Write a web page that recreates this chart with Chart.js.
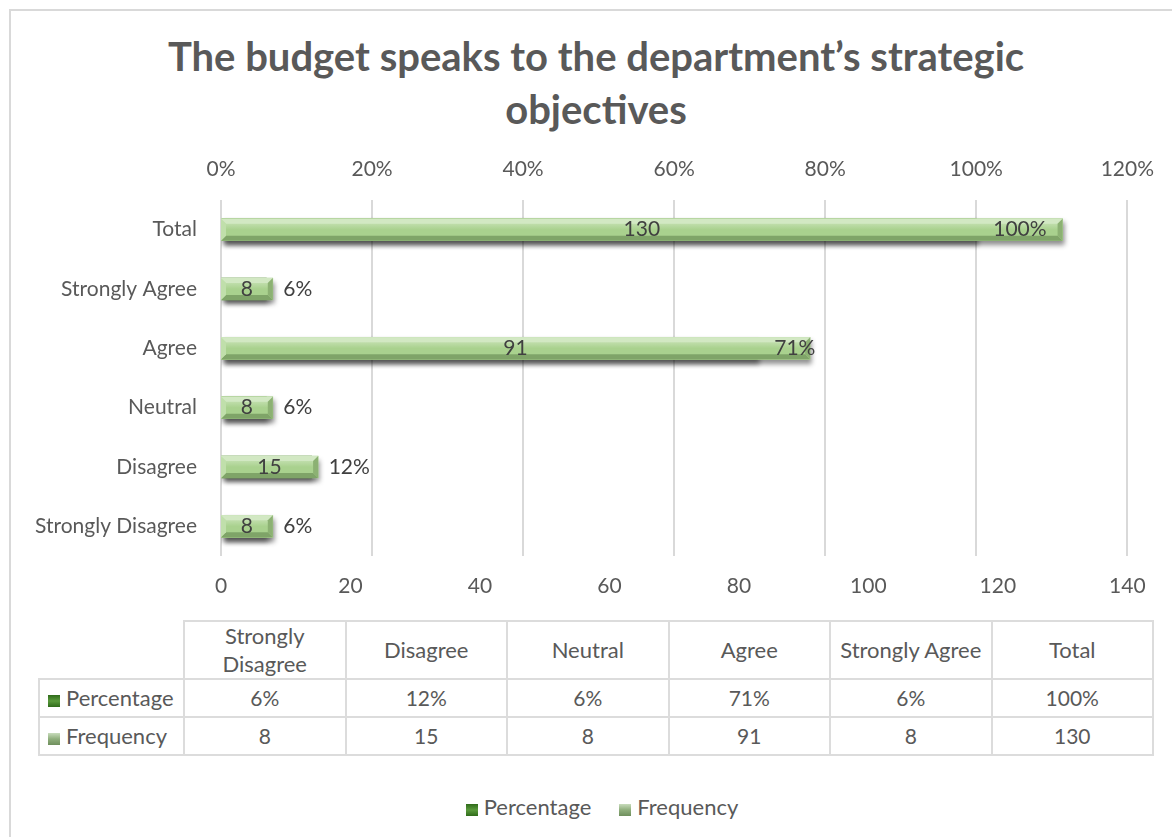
<!DOCTYPE html>
<html><head><meta charset="utf-8">
<script src="https://cdn.jsdelivr.net/npm/chart.js@4"></script>
<style>
html,body{margin:0;padding:0;background:#fff;width:1172px;height:837px;overflow:hidden;font-family:Lato,sans-serif;color:#595959}
#frame{position:absolute;left:9px;top:9px;width:1200px;height:900px;border-left:2px solid #d9d9d9;border-top:2px solid #d9d9d9;box-sizing:border-box}
#title{position:absolute;left:0;top:30px;width:1192px;text-align:center;font:bold 40px/53px Lato,sans-serif;color:#595959}
#wrap{position:absolute;left:0;top:0;width:1172px;height:600px}
#tbl{position:absolute;left:38px;top:620px;border-collapse:collapse;table-layout:fixed}
#tbl td{border:2px solid #dcdcdc;text-align:center;font-size:21px;color:#595959;padding:0 4px;line-height:26px;height:38px;box-sizing:border-box}
#tbl td.hd{font-size:22px;height:58px;line-height:28px}
#tbl td.rl{text-align:left;padding-left:8px;font-size:22px}
#tbl td.blank{border-top:none;border-left:none}
.mk{display:inline-block;width:12px;height:12px;margin-right:6px;vertical-align:-1px}
#legend{position:absolute;top:793px;left:6px;width:1192px;text-align:center;font-size:22px;color:#595959}
#legend span.it{margin:0 14px}
</style></head>
<body>
<div id="frame"></div>
<div id="title"></div>
<div id="wrap"><canvas id="c" width="1172" height="600"></canvas></div>
<table id="tbl"></table>
<div id="legend"></div>
<script>
const titleLines = ['The budget speaks to the department\u2019s strategic', 'objectives'];
const categories = ['Strongly Disagree','Disagree','Neutral','Agree','Strongly Agree','Total'];
const frequency = [8, 15, 8, 91, 8, 130];
const percentage = [6, 12, 6, 71, 6, 100];
const pctTicks = [0, 20, 40, 60, 80, 100, 120];
const freqTicks = [0, 20, 40, 60, 80, 100, 120, 140];
const seriesNames = ['Percentage', 'Frequency'];

const PCT_COLOR = '#548235';
const FREQ_COLOR = '#a9d18e';
const PCT_MARK = 'linear-gradient(#2f6b1a,#5a9a3c 50%,#2f6b1a)';
const FREQ_MARK = 'linear-gradient(#c8dcbc,#8fae7c 50%,#6f8f5d)';

document.getElementById('title').innerHTML = titleLines.join('<br>');

// bevel overlay drawn over each bar element from the library's geometry
function bevel(ctx, el, light, mid, dark, edgeL, edgeR){
  const p = el.getProps(['x','y','base','height'], true);
  const x0 = Math.min(p.base, p.x), x1 = Math.max(p.base, p.x);
  const yT = p.y - p.height/2, yB = p.y + p.height/2;
  const b = Math.min(5, (x1-x0)/3, p.height/3);
  ctx.save();
  const g = ctx.createLinearGradient(0, yT, 0, yB);
  g.addColorStop(0, light); g.addColorStop(0.5, mid); g.addColorStop(1, mid);
  ctx.fillStyle = g; ctx.fillRect(x0, yT, x1-x0, yB-yT);
  ctx.fillStyle = light;
  ctx.beginPath(); ctx.moveTo(x0,yT); ctx.lineTo(x1,yT); ctx.lineTo(x1-b,yT+b); ctx.lineTo(x0+b,yT+b); ctx.closePath(); ctx.fill();
  ctx.fillStyle = dark;
  ctx.beginPath(); ctx.moveTo(x0,yB); ctx.lineTo(x1,yB); ctx.lineTo(x1-b,yB-b); ctx.lineTo(x0+b,yB-b); ctx.closePath(); ctx.fill();
  ctx.fillStyle = edgeL;
  ctx.beginPath(); ctx.moveTo(x0,yT); ctx.lineTo(x0+b,yT+b); ctx.lineTo(x0+b,yB-b); ctx.lineTo(x0,yB); ctx.closePath(); ctx.fill();
  ctx.fillStyle = edgeR;
  ctx.beginPath(); ctx.moveTo(x1,yT); ctx.lineTo(x1-b,yT+b); ctx.lineTo(x1-b,yB-b); ctx.lineTo(x1,yB); ctx.closePath(); ctx.fill();
  ctx.restore();
}

const bevelPlugin = {
  id: 'bevel',
  beforeDatasetDraw(chart){
    const ctx = chart.ctx;
    ctx.save();
    ctx.shadowColor = 'rgba(0,0,0,0.45)';
    ctx.shadowBlur = 5;
    ctx.shadowOffsetX = 2;
    ctx.shadowOffsetY = 4;
  },
  afterDatasetDraw(chart, args){
    const ctx = chart.ctx;
    ctx.restore();
    const meta = args.meta;
    const isPct = meta.index === 0;
    meta.data.forEach(el => {
      if (isPct) bevel(ctx, el, '#7fb05e', '#548235', '#3b5e25', '#6a9a4a', '#3f6628');
      else bevel(ctx, el, '#d2e8c3', '#a9d18e', '#7fa468', '#c0dfab', '#8cb173');
    });
  }
};

const labelPlugin = {
  id: 'vlabels',
  afterDatasetsDraw(chart){
    const ctx = chart.ctx;
    ctx.save();
    ctx.font = '21px Lato';
    ctx.fillStyle = '#404040';
    ctx.textBaseline = 'middle';
    chart.getDatasetMeta(1).data.forEach((el,i) => {
      const p = el.getProps(['x','y','base'], true);
      ctx.textAlign = 'center';
      ctx.fillText(String(frequency[i]), (p.x + p.base)/2, p.y);
    });
    chart.getDatasetMeta(0).data.forEach((el,i) => {
      const p = el.getProps(['x','y'], true);
      ctx.textAlign = 'left';
      ctx.fillText(percentage[i] + '%', p.x + 17, p.y);
    });
    ctx.restore();
  }
};

new Chart(document.getElementById('c'), {
  type: 'bar',
  data: {
    labels: categories,
    datasets: [
      { label: seriesNames[0], data: percentage, xAxisID: 'xp', backgroundColor: PCT_COLOR, barThickness: 22, grouped: false, order: 2 },
      { label: seriesNames[1], data: frequency, xAxisID: 'xf', backgroundColor: FREQ_COLOR, barThickness: 22, grouped: false, order: 1 }
    ]
  },
  plugins: [bevelPlugin, labelPlugin],
  options: {
    indexAxis: 'y',
    responsive: false,
    animation: false,
    layout: { padding: { left: 0, right: 44, top: 147, bottom: 0 } },
    plugins: {
      legend: { display: false },
      tooltip: { enabled: false },
      title: { display: false }
    },
    scales: {
      y: {
        type: 'category',
        reverse: true,
        grid: { display: false },
        border: { display: false },
        ticks: { font: { family: 'Lato', size: 21 }, color: '#595959', padding: 16 },
        afterFit: s => { s.width = 221; }
      },
      xp: {
        type: 'linear',
        position: 'top',
        min: 0, max: 120,
        afterBuildTicks: s => { s.ticks = pctTicks.map(v => ({ value: v })); },
        grid: { color: '#d9d9d9', lineWidth: 2, drawTicks: false },
        border: { display: false },
        ticks: { font: { family: 'Lato', size: 21 }, color: '#595959', padding: 18, callback: v => v + '%' },
        afterFit: s => { s.height = 53; }
      },
      xf: {
        type: 'linear',
        position: 'bottom',
        min: 0, max: 140,
        afterBuildTicks: s => { s.ticks = freqTicks.map(v => ({ value: v })); },
        grid: { display: false, drawTicks: false },
        border: { display: false },
        ticks: { font: { family: 'Lato', size: 21 }, color: '#595959', padding: 18 },
        afterFit: s => { s.height = 44; }
      }
    }
  }
});

// data table built from the arrays
const tbl = document.getElementById('tbl');
const colW = 161.5;
let html = '<colgroup><col style="width:145px">' + categories.map(() => '<col style="width:' + colW + 'px">').join('') + '</colgroup>';
html += '<tr><td class="hd blank"></td>' + categories.map(c => '<td class="hd">' + c + '</td>').join('') + '</tr>';
html += '<tr><td class="rl"><span class="mk" style="background:' + PCT_MARK + '"></span>' + seriesNames[0] + '</td>' + percentage.map(v => '<td>' + v + '%</td>').join('') + '</tr>';
html += '<tr><td class="rl"><span class="mk" style="background:' + FREQ_MARK + '"></span>' + seriesNames[1] + '</td>' + frequency.map(v => '<td>' + v + '</td>').join('') + '</tr>';
tbl.innerHTML = html;

document.getElementById('legend').innerHTML =
  '<span class="it"><span class="mk" style="background:' + PCT_MARK + '"></span>' + seriesNames[0] + '</span>' +
  '<span class="it"><span class="mk" style="background:' + FREQ_MARK + '"></span>' + seriesNames[1] + '</span>';
</script></body></html>
